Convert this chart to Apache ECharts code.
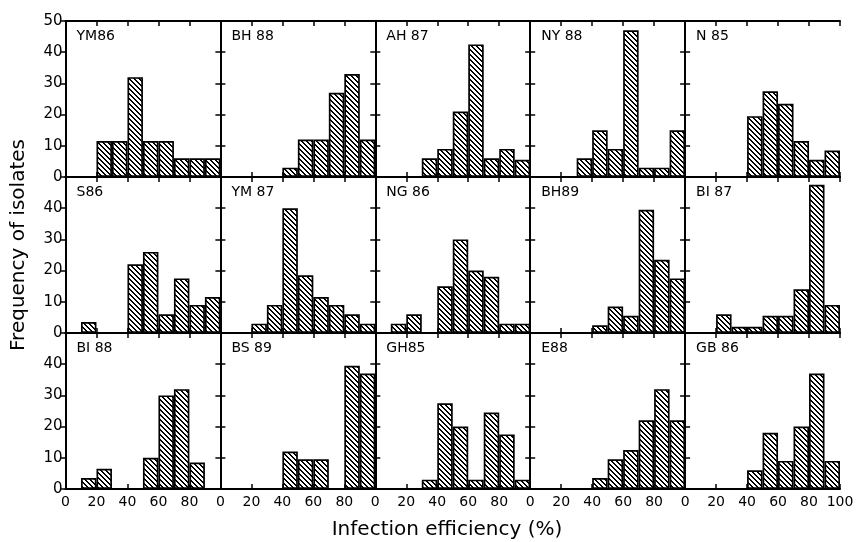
<!DOCTYPE html>
<html><head><meta charset="utf-8">
<script src="https://cdn.jsdelivr.net/npm/echarts@6/dist/echarts.min.js"></script>
<style>html,body{margin:0;padding:0;background:#fff}#c{width:857px;height:542px}</style>
</head><body><div id="c"></div>
<script>
// ---- data ----
const bins = ['0-10','10-20','20-30','30-40','40-50','50-60','60-70','70-80','80-90','90-100'];
const xTickValues = [0, 20, 40, 60, 80, 100];
const yTickValues = [0, 10, 20, 30, 40, 50];
const panelNames = ['YM86','BH 88','AH 87','NY 88','N 85',
                    'S86','YM 87','NG 86','BH89','BI 87',
                    'BI 88','BS 89','GH85','E88','GB 86'];
const YM86 = [0, 0, 11.5, 11.5, 32, 11.5, 11.5, 6, 6, 6];
const BH88 = [0, 0, 0, 0, 3, 12, 12, 27, 33, 12];
const AH87 = [0, 0, 0, 6, 9, 21, 42.5, 6, 9, 5.5];
const NY88 = [0, 0, 0, 6, 15, 9, 47, 3, 3, 15];
const N85  = [0, 0, 0, 0, 19.5, 27.5, 23.5, 11.5, 5.5, 8.5];
const S86  = [0, 3.5, 0, 0, 22, 26, 6, 17.5, 9, 11.5];
const YM87 = [0, 0, 3, 9, 40, 18.5, 11.5, 9, 6, 3];
const NG86 = [0, 3, 6, 0, 15, 30, 20, 18, 3, 3];
const BH89 = [0, 0, 0, 0, 2.5, 8.5, 5.5, 39.5, 23.5, 17.5];
const BI87 = [0, 0, 6, 2, 2, 5.5, 5.5, 14, 47.5, 9];
const BI88 = [0, 3.5, 6.5, 0, 0, 10, 30, 32, 8.5, 0];
const BS89 = [0, 0, 0, 0, 12, 9.5, 9.5, 0, 39.5, 37];
const GH85 = [0, 0, 0, 3, 27.5, 20, 3, 24.5, 17.5, 3];
const E88  = [0, 0, 0, 0, 3.5, 9.5, 12.5, 22, 32, 22];
const GB86 = [0, 0, 0, 0, 6, 18, 9, 20, 37, 9];
const panelValues = [YM86, BH88, AH87, NY88, N85, S86, YM87, NG86, BH89, BI87, BI88, BS89, GH85, E88, GB86];
const xTitle = 'Infection efficiency (%)';
const yTitle = 'Frequency of isolates';

// ---- layout / style ----
const FONT = 'DejaVu Sans';
const L0 = 65.5, T0 = 21, PW = 154.9, PH = 156;

function makeHatch() {
  const s = 5, cv = document.createElement('canvas');
  cv.width = s; cv.height = s;
  const ctx = cv.getContext('2d');
  ctx.fillStyle = '#fff'; ctx.fillRect(0, 0, s, s);
  ctx.fillStyle = '#000';
  for (let y = 0; y < s; y++) {
    ctx.fillRect(y % s, y, 1, 1);
    ctx.fillRect((y + 1) % s, y, 1, 1);
  }
  return cv;
}
const hatch = { image: makeHatch(), repeat: 'repeat' };

const grid = [], xAxis = [], yAxis = [], series = [], title = [];
const axisLine = { show: true, lineStyle: { color: '#000', width: 2 } };
for (let g = 0; g < 15; g++) {
  const r = Math.floor(g / 5), c = g % 5;
  const left = L0 + c * PW, top = T0 + r * PH;
  grid.push({ left: left, top: top, width: PW, height: PH, show: false, containLabel: false });
  xAxis.push({ type: 'category', gridIndex: g, data: bins, show: false, boundaryGap: true });
  xAxis.push({ type: 'value', gridIndex: g, position: 'bottom', min: 0, max: 100, interval: 20,
    axisLine: axisLine, splitLine: { show: false },
    axisTick: { show: true, inside: true, length: 5, lineStyle: { color: '#000', width: 1.5 } },
    axisLabel: { show: r === 2, showMaxLabel: c === 4, showMinLabel: true, margin: 6,
      fontSize: 14, color: '#000', fontFamily: FONT } });
  xAxis.push({ type: 'value', gridIndex: g, position: 'top', min: 0, max: 100, interval: 20,
    axisLine: axisLine, splitLine: { show: false },
    axisTick: { show: true, inside: true, length: 5, lineStyle: { color: '#000', width: 1.5 } },
    axisLabel: { show: false } });
  yAxis.push({ type: 'value', gridIndex: g, position: 'left', min: 0, max: 50, interval: 10,
    axisLine: axisLine, splitLine: { show: false },
    axisTick: { show: true, inside: c !== 0, length: 5, lineStyle: { color: '#000', width: 1.5 } },
    axisLabel: { show: c === 0, showMaxLabel: r === 0, margin: 3,
      fontSize: 15, color: '#000', fontFamily: FONT } });
  yAxis.push({ type: 'value', gridIndex: g, position: 'right', min: 0, max: 50, interval: 10,
    axisLine: axisLine, splitLine: { show: false },
    axisTick: { show: true, inside: true, length: 5, lineStyle: { color: '#000', width: 1.5 } },
    axisLabel: { show: false } });
  series.push({ type: 'bar', xAxisIndex: 3 * g, yAxisIndex: 2 * g,
    data: panelValues[g].map(v => (v ? v : '-')),
    barCategoryGap: '0%', barGap: '0%', silent: true,
    itemStyle: { color: hatch, borderColor: '#000', borderWidth: 1.7 } });
  title.push({ text: panelNames[g], left: left + 11, top: top + 8, padding: 0,
    textStyle: { fontSize: 14, fontWeight: 'normal', color: '#000', fontFamily: FONT } });
}

const chart = echarts.init(document.getElementById('c'), null, { renderer: 'canvas' });
chart.setOption({
  animation: false,
  backgroundColor: '#fff',
  title: title,
  grid: grid, xAxis: xAxis, yAxis: yAxis, series: series,
  graphic: [
    { type: 'text', x: 447, y: 530, style: { text: xTitle, font: '20px "DejaVu Sans"', fill: '#000',
      textAlign: 'center', textVerticalAlign: 'middle' } },
    { type: 'text', x: 19, y: 245, rotation: Math.PI / 2, style: { text: yTitle, font: '20px "DejaVu Sans"',
      fill: '#000', textAlign: 'center', textVerticalAlign: 'middle' } }
  ]
});
</script></body></html>
